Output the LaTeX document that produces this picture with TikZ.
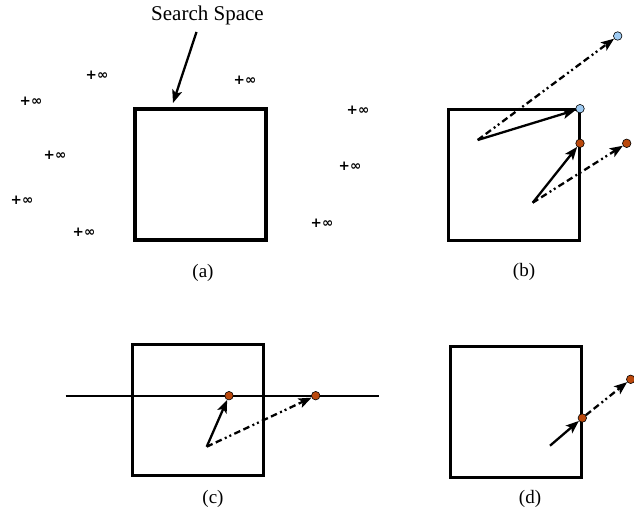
\documentclass[tikz,border=0pt]{standalone}
\usepackage{fontspec}
\setmainfont{Liberation Serif}
\newfontfamily\symfont{DejaVu Sans}
\usetikzlibrary{arrows.meta}

\definecolor{lblue}{RGB}{158,203,243}
\definecolor{rust}{RGB}{186,72,12}

\tikzset{
    space/.style={draw, line width=3.3pt, minimum width=131pt,
        minimum height=131pt, inner sep=0pt},
    inf/.style={font=\symfont\bfseries\fontsize{13.5}{15}\selectfont, inner sep=0pt},
    lbl/.style={font=\fontsize{19}{22}\selectfont, anchor=base},
    dot/.style={circle, draw, line width=0.6pt, minimum size=8.5pt, inner sep=0pt},
    bluedot/.style={dot, fill=lblue},
    rustdot/.style={dot, fill=rust},
    move/.style={line width=2.3pt, -{Stealth[length=13pt,width=10pt,inset=3pt]}},
    jump/.style={move, dash pattern=on 6.5pt off 3.5pt on 6.5pt off 3.5pt on 2pt off 3pt on 2pt off 3.5pt}
}

\begin{document}
\begin{tikzpicture}[x=1pt, y=-1pt]
    \useasboundingbox (0,0) rectangle (634,510);

    % (a)
    \node[space] (sqa) at (200.5,174.5) {};
    \node[lbl, font=\fontsize{21}{24}\selectfont] (title) at (207.5,21) {Search Space};
    \coordinate (stip) at (173,103);
    \draw[move] ([xshift=-11pt,yshift=-3pt]title.south) -- (stip);
    \node[inf] (i1) at (97,75) {+∞};
    \node[inf] (i2) at (245,80) {+∞};
    \node[inf] (i3) at (31,101) {+∞};
    \node[inf] (i4) at (358,110) {+∞};
    \node[inf] (i5) at (55,155) {+∞};
    \node[inf] (i6) at (350,166) {+∞};
    \node[inf] (i7) at (22,200) {+∞};
    \node[inf] (i8) at (84,232) {+∞};
    \node[inf] (i9) at (322,223) {+∞};
    \node[lbl] (la) at (203,278) {(a)};

    % (b)
    \node[space] (sqb) at (514,175) {};
    \coordinate (bs1) at (477.7,140);
    \coordinate (bs2) at (532.7,202.7);
    \node[bluedot] (bb1) at (580,108.7) {};
    \node[bluedot] (bb2) at (617.7,36) {};
    \node[rustdot] (br1) at (580,143.3) {};
    \node[rustdot] (br2) at (626.7,143.3) {};
    \draw[jump] (bs1) -- (bb2);
    \draw[move] (bs1) -- (bb1);
    \draw[jump] (bs2) -- (br2);
    \draw[move] (bs2) -- (br1);
    \node[lbl] (lb) at (524,277) {(b)};

    % (c)
    \node[space] (sqc) at (197.7,410) {};
    \coordinate (cl) at (65.7,395.7);
    \coordinate (cr) at (379,395.7);
    \draw[line width=2pt] (cl) -- (cr);
    \coordinate (cs) at (206.7,446.7);
    \node[rustdot] (cr1) at (229,395.7) {};
    \node[rustdot] (cr2) at (315.7,395.7) {};
    \draw[jump] (cs) -- (cr2);
    \draw[move] (cs) -- (cr1);
    \node[lbl] (lc) at (213,503) {(c)};

    % (d)
    \node[space] (sqd) at (516.3,411.7) {};
    \coordinate (ds) at (550,445.7);
    \node[rustdot] (dr1) at (582.3,418) {};
    \node[rustdot] (dr2) at (630.7,379.3) {};
    \draw[jump] (dr1) -- (dr2);
    \draw[move] (ds) -- (dr1);
    \node[lbl] (ld) at (530,503) {(d)};
\end{tikzpicture}
\end{document}
